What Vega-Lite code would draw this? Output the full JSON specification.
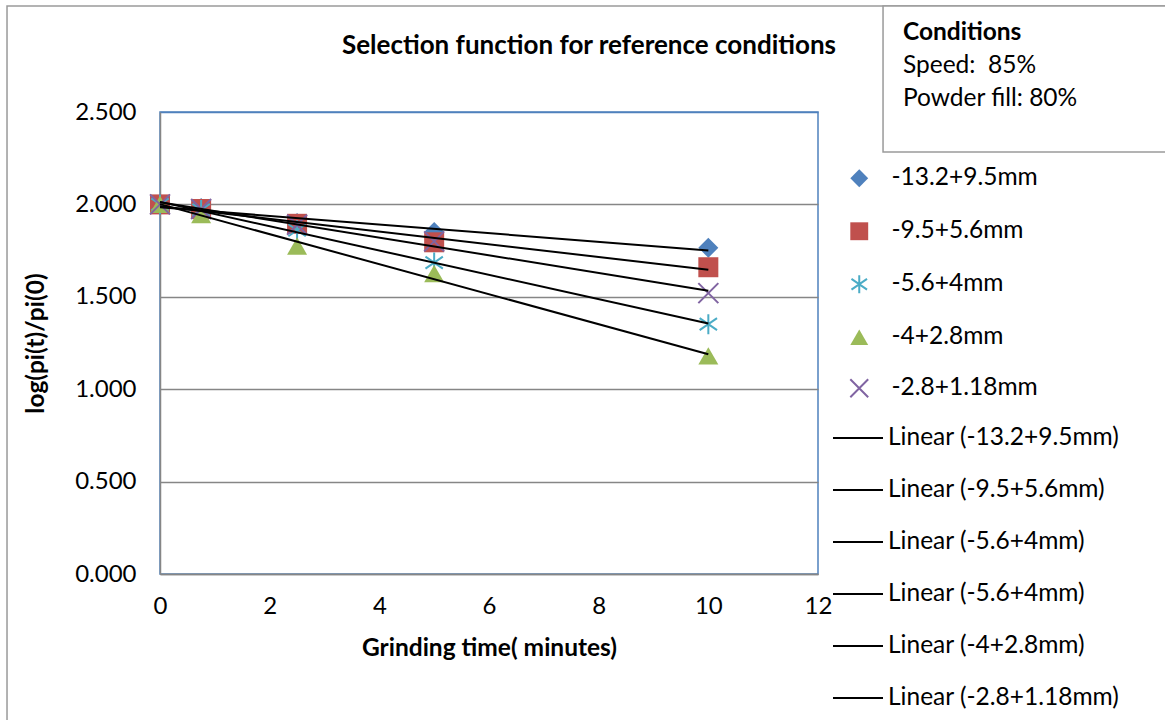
{
  "$schema": "https://vega.github.io/schema/vega-lite/v6.json",
  "width": 658,
  "height": 462,
  "autosize": {"type": "none"},
  "padding": {"left": 160, "top": 112, "right": 347, "bottom": 146},
  "background": "white",
  "config": {
    "font": "Lato",
    "view": {"stroke": "#4f81bd", "strokeWidth": 1.5}
  },
  "title": {
    "text": "Selection function for reference conditions",
    "fontSize": 26,
    "fontWeight": "bold",
    "font": "Lato",
    "color": "black",
    "anchor": "middle",
    "dx": 100,
    "offset": -54
  },
  "datasets": {
    "obs": [
      {"series": "-13.2+9.5mm", "t": 0, "v": 2.0},
      {"series": "-13.2+9.5mm", "t": 0.75, "v": 1.98},
      {"series": "-13.2+9.5mm", "t": 2.5, "v": 1.9},
      {"series": "-13.2+9.5mm", "t": 5, "v": 1.85},
      {"series": "-13.2+9.5mm", "t": 10, "v": 1.765},
      {"series": "-9.5+5.6mm", "t": 0, "v": 2.0},
      {"series": "-9.5+5.6mm", "t": 0.75, "v": 1.975},
      {"series": "-9.5+5.6mm", "t": 2.5, "v": 1.895},
      {"series": "-9.5+5.6mm", "t": 5, "v": 1.795},
      {"series": "-9.5+5.6mm", "t": 10, "v": 1.66},
      {"series": "-5.6+4mm", "t": 0, "v": 2.0},
      {"series": "-5.6+4mm", "t": 0.75, "v": 1.97},
      {"series": "-5.6+4mm", "t": 2.5, "v": 1.86},
      {"series": "-5.6+4mm", "t": 5, "v": 1.685},
      {"series": "-5.6+4mm", "t": 10, "v": 1.352},
      {"series": "-4+2.8mm", "t": 0, "v": 2.0},
      {"series": "-4+2.8mm", "t": 0.75, "v": 1.945},
      {"series": "-4+2.8mm", "t": 2.5, "v": 1.775},
      {"series": "-4+2.8mm", "t": 5, "v": 1.625},
      {"series": "-4+2.8mm", "t": 10, "v": 1.18},
      {"series": "-2.8+1.18mm", "t": 0, "v": 2.0},
      {"series": "-2.8+1.18mm", "t": 0.75, "v": 1.975},
      {"series": "-2.8+1.18mm", "t": 2.5, "v": 1.89},
      {"series": "-2.8+1.18mm", "t": 5, "v": 1.8},
      {"series": "-2.8+1.18mm", "t": 10, "v": 1.52}
    ]
  },
  "encoding": {
    "x": {
      "type": "quantitative",
      "scale": {"domain": [0, 12], "nice": false, "zero": false},
      "axis": {
        "title": "Grinding time( minutes)",
        "values": [0, 2, 4, 6, 8, 10, 12],
        "format": "d",
        "grid": false,
        "ticks": false,
        "labelFlush": false,
        "domainColor": "#868686",
        "domainWidth": 1.5,
        "labelFontSize": 24,
        "labelFont": "Lato",
        "labelColor": "black",
        "labelPadding": 20,
        "titleFontSize": 24.5,
        "titleFont": "Lato",
        "titleFontWeight": "bold",
        "titleColor": "black",
        "titlePadding": 18
      }
    },
    "y": {
      "type": "quantitative",
      "scale": {"domain": [0, 2.5], "nice": false, "zero": false},
      "axis": {
        "title": "log(pi(t)/pi(0)",
        "values": [0, 0.5, 1, 1.5, 2, 2.5],
        "format": ".3f",
        "grid": true,
        "gridColor": {"condition": {"test": "datum.value == 2.5", "value": "#4f81bd"}, "value": "#868686"},
        "gridWidth": 1.5,
        "ticks": false,
        "labelFlush": false,
        "domainColor": "#868686",
        "domainWidth": 1.5,
        "labelFontSize": 24,
        "labelFont": "Lato",
        "labelColor": "black",
        "labelPadding": 24,
        "titleFontSize": 24.5,
        "titleFont": "Lato",
        "titleFontWeight": "bold",
        "titleColor": "black",
        "titlePadding": 26
      }
    }
  },
  "layer": [
    {
      "data": {"values": [{}]},
      "mark": {"type": "rect", "fill": "transparent", "stroke": "#9a9a9a", "strokeWidth": 1.5},
      "encoding": {
        "x": {"datum": -2.79},
        "x2": {"datum": 18.5},
        "y": {"datum": 3.0736},
        "y2": {"datum": -0.85}
      }
    },
    {
      "data": {"values": [{}]},
      "mark": {"type": "rect", "fill": "white", "stroke": "#9a9a9a", "strokeWidth": 1.5},
      "encoding": {
        "x": {"datum": 13.186},
        "x2": {"datum": 18.5},
        "y": {"datum": 3.0736},
        "y2": {"datum": 2.2835}
      }
    },
    {
      "data": {"values": [{}]},
      "mark": {"type": "text", "align": "left", "baseline": "alphabetic", "fontSize": 24.5, "fontWeight": "bold", "font": "Lato", "color": "black", "text": "Conditions"},
      "encoding": {
        "x": {"datum": 13.55},
        "y": {"datum": 2.8896}
      }
    },
    {
      "data": {"values": [{}]},
      "mark": {"type": "text", "align": "left", "baseline": "alphabetic", "fontSize": 24.5, "font": "Lato", "color": "black", "lineHeight": 33, "text": ["Speed:\u00a0 85%", "Powder fill: 80%"]},
      "encoding": {
        "x": {"datum": 13.55},
        "y": {"datum": 2.711}
      }
    },
    {
      "data": {"name": "obs"},
      "mark": {"type": "point", "size": 400, "strokeWidth": 2, "opacity": 1},
      "encoding": {
        "x": {"field": "t", "type": "quantitative"},
        "y": {"field": "v", "type": "quantitative"},
        "shape": {
          "field": "series", "type": "nominal",
          "scale": {
            "domain": ["-13.2+9.5mm", "-9.5+5.6mm", "-5.6+4mm", "-4+2.8mm", "-2.8+1.18mm"],
            "range": ["diamond", "square", "M0,-1L0,1M-0.87,-0.6L0.87,0.6M-0.87,0.6L0.87,-0.6", "triangle-up", "M-1,-1L1,1M-1,1L1,-1"]
          },
          "legend": {"title": null, "orient": "none", "legendX": 687, "legendY": 54, "labelFontSize": 24.5, "labelFont": "Lato", "labelColor": "black", "labelLimit": 400, "symbolSize": 320, "symbolStrokeWidth": 2, "rowPadding": 26, "labelOffset": 20}
        },
        "fill": {
          "field": "series", "type": "nominal",
          "scale": {
            "domain": ["-13.2+9.5mm", "-9.5+5.6mm", "-5.6+4mm", "-4+2.8mm", "-2.8+1.18mm"],
            "range": ["#4f81bd", "#c0504d", "transparent", "#9bbb59", "transparent"]
          },
          "legend": {"title": null, "orient": "none", "legendX": 687, "legendY": 54, "labelFontSize": 24.5, "labelFont": "Lato", "labelColor": "black", "labelLimit": 400, "symbolSize": 320, "symbolStrokeWidth": 2, "rowPadding": 26, "labelOffset": 20}
        },
        "stroke": {
          "field": "series", "type": "nominal",
          "scale": {
            "domain": ["-13.2+9.5mm", "-9.5+5.6mm", "-5.6+4mm", "-4+2.8mm", "-2.8+1.18mm"],
            "range": ["transparent", "transparent", "#4bacc6", "transparent", "#8064a2"]
          },
          "legend": {"title": null, "orient": "none", "legendX": 687, "legendY": 54, "labelFontSize": 24.5, "labelFont": "Lato", "labelColor": "black", "labelLimit": 400, "symbolSize": 320, "symbolStrokeWidth": 2, "rowPadding": 26, "labelOffset": 20}
        }
      }
    },
    {
      "data": {"name": "obs"},
      "transform": [{"regression": "v", "on": "t", "groupby": ["series"]}],
      "mark": {"type": "line", "strokeWidth": 2},
      "encoding": {
        "x": {"field": "t", "type": "quantitative"},
        "y": {"field": "v", "type": "quantitative"},
        "color": {
          "field": "series", "type": "nominal",
          "scale": {
            "domain": ["-13.2+9.5mm", "-9.5+5.6mm", "-5.6+4mm", "-5.6+4mm (2)", "-4+2.8mm", "-2.8+1.18mm"],
            "range": ["black", "black", "black", "black", "black", "black"]
          },
          "legend": {"title": null, "orient": "none", "legendX": 672, "legendY": 300, "labelFontSize": 24.5, "labelFont": "Lato", "labelColor": "black", "labelLimit": 400, "symbolType": "stroke", "symbolSize": 2500, "symbolStrokeWidth": 2, "rowPadding": 14, "labelOffset": 4,
            "labelExpr": "'Linear (' + replace(datum.label, ' (2)', '') + ')'"}
        }
      }
    }
  ]
}
